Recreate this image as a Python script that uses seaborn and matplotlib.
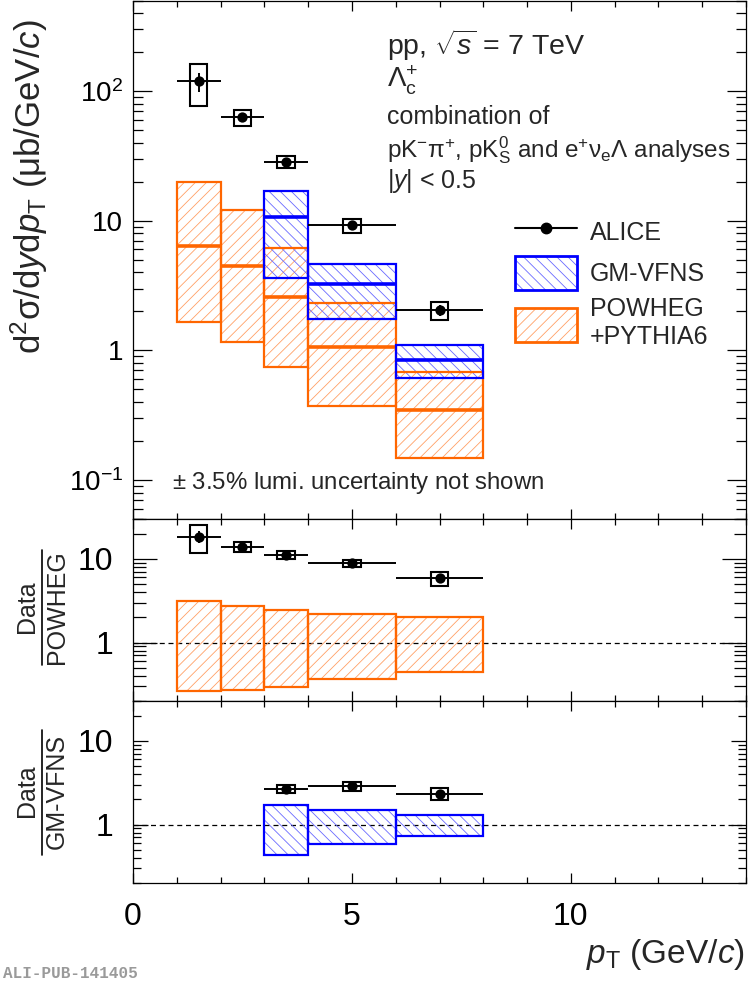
import numpy as np
import pandas as pd
import matplotlib
matplotlib.use("Agg")
import matplotlib.pyplot as plt
from matplotlib.patches import Patch
from matplotlib.lines import Line2D
from matplotlib.legend_handler import HandlerTuple
from matplotlib.ticker import FixedLocator, FixedFormatter, LogLocator, NullFormatter, MultipleLocator
import seaborn as sns

sns.set_theme(style="ticks")
plt.rcParams["font.family"] = ["Liberation Sans", "DejaVu Sans"]
plt.rcParams["mathtext.fontset"] = "custom"
plt.rcParams["mathtext.rm"] = "Liberation Sans"
plt.rcParams["mathtext.it"] = "Liberation Sans:italic"
plt.rcParams["mathtext.bf"] = "Liberation Sans:bold"
plt.rcParams["hatch.linewidth"] = 0.6
plt.rcParams["axes.linewidth"] = 0.9

# ---- pT binning ----
bin_lo = [1.0, 2.0, 3.0, 4.0, 6.0]
bin_hi = [2.0, 3.0, 4.0, 6.0, 8.0]
pt_center = [1.5, 2.5, 3.5, 5.0, 7.0]

# ---- ALICE Lambda_c+ cross section (ub/GeV/c) ----
alice_xsec = [119.0, 63.0, 28.5, 9.2, 2.04]
alice_stat = [20.0, 4.0, 1.5, 0.5, 0.2]
alice_syst = [42.0, 9.0, 3.0, 1.1, 0.33]

# ---- POWHEG+PYTHIA6 prediction ----
powheg_central = [6.4, 4.48, 2.58, 1.06, 0.346]
powheg_upper = [19.8, 12.2, 6.2, 2.32, 0.68]
powheg_lower = [1.66, 1.16, 0.74, 0.373, 0.149]

# ---- GM-VFNS prediction (bins 3-4, 4-6, 6-8) ----
gm_bin_lo = [3.0, 4.0, 6.0]
gm_bin_hi = [4.0, 6.0, 8.0]
gm_pt = [3.5, 5.0, 7.0]
gm_central = [10.7, 3.24, 0.85]
gm_upper = [16.9, 4.6, 1.10]
gm_lower = [3.6, 1.73, 0.61]

# ---- Data / POWHEG ----
ratio_pw = [18.5, 14.0, 11.2, 8.9, 5.9]
ratio_pw_stat = [3.0, 0.8, 0.5, 0.4, 0.5]
ratio_pw_syst = [6.7, 2.0, 1.2, 0.9, 1.1]
pw_band_upper = [3.17, 2.76, 2.48, 2.22, 2.03]
pw_band_lower = [0.264, 0.268, 0.297, 0.363, 0.444]

# ---- Data / GM-VFNS ----
ratio_gm = [2.66, 2.86, 2.34]
ratio_gm_stat = [0.15, 0.15, 0.2]
ratio_gm_syst = [0.3, 0.35, 0.4]
gm_band_upper = [1.69, 1.48, 1.29]
gm_band_lower = [0.43, 0.58, 0.73]

ORANGE = "#ff6600"
ORANGE_HATCH = "#ffa066"
BLUE = "#0000ff"
BLUE_HATCH = "#6a6aff"

W, H = 748, 984
fig = plt.figure(figsize=(W / 100, H / 100), dpi=100)


def axes_px(x0, y0, x1, y1):
    return fig.add_axes([x0 / W, 1 - y1 / H, (x1 - x0) / W, (y1 - y0) / H])


def fx(x):
    return x / W


def fy(y):
    return 1 - y / H


ax_top = axes_px(133, 0.5, 746, 519)
ax_mid = axes_px(133, 519, 746, 701)
ax_bot = axes_px(133, 701, 746, 883)


def model_band(ax, lo, hi, lower, upper, central, edge, hatch_col, hatch):
    lo = np.asarray(lo)
    hi = np.asarray(hi)
    lower = np.asarray(lower)
    upper = np.asarray(upper)
    ax.bar(lo, upper - lower, bottom=lower, width=hi - lo, align="edge",
           facecolor="none", edgecolor=hatch_col, hatch=hatch, linewidth=0, zorder=2)
    ax.bar(lo, upper - lower, bottom=lower, width=hi - lo, align="edge",
           fill=False, edgecolor=edge, linewidth=1.6, zorder=3)
    if central is not None:
        ax.hlines(central, lo, hi, colors=edge, linewidth=2.6, zorder=3)


def data_points(ax, x, xlo, xhi, y, stat, syst):
    x = np.asarray(x)
    y = np.asarray(y)
    syst = np.asarray(syst)
    ax.bar(x - 0.2, 2 * syst, bottom=y - syst, width=0.4, align="edge",
           fill=False, edgecolor="black", linewidth=1.5, zorder=6)
    ax.errorbar(x, y, yerr=stat,
                xerr=[x - np.asarray(xlo), np.asarray(xhi) - x],
                fmt="none", ecolor="black", elinewidth=1.4, capsize=0, zorder=6)
    df = pd.DataFrame({"pt": x, "val": y})
    sns.scatterplot(data=df, x="pt", y="val", ax=ax, color="black", s=55,
                    edgecolor="black", linewidth=0, zorder=7, legend=False)
    ax.set_xlabel("")
    ax.set_ylabel("")


# ---- top panel: cross section ----
model_band(ax_top, bin_lo, bin_hi, powheg_lower, powheg_upper, powheg_central,
           ORANGE, ORANGE_HATCH, "///")
model_band(ax_top, gm_bin_lo, gm_bin_hi, gm_lower, gm_upper, gm_central,
           BLUE, BLUE_HATCH, "\\\\\\")
data_points(ax_top, pt_center, bin_lo, bin_hi, alice_xsec, alice_stat, alice_syst)

# ---- middle panel: Data / POWHEG ----
model_band(ax_mid, bin_lo, bin_hi, pw_band_lower, pw_band_upper, None,
           ORANGE, ORANGE_HATCH, "///")
data_points(ax_mid, pt_center, bin_lo, bin_hi, ratio_pw, ratio_pw_stat, ratio_pw_syst)

# ---- bottom panel: Data / GM-VFNS ----
model_band(ax_bot, gm_bin_lo, gm_bin_hi, gm_band_lower, gm_band_upper, None,
           BLUE, BLUE_HATCH, "\\\\\\")
data_points(ax_bot, gm_pt, gm_bin_lo, gm_bin_hi, ratio_gm, ratio_gm_stat, ratio_gm_syst)

for ax in (ax_mid, ax_bot):
    ax.axhline(1.0, color="black", linewidth=0.9, linestyle=(0, (4, 3)), zorder=1)

# ---- axes styling ----
for ax in (ax_top, ax_mid, ax_bot):
    ax.set_yscale("log")
    ax.set_xlim(0, 14)
    ax.xaxis.set_major_locator(FixedLocator([0, 5, 10]))
    ax.xaxis.set_minor_locator(MultipleLocator(1))
    ax.yaxis.set_minor_locator(LogLocator(base=10, subs=np.arange(2, 10), numticks=20))
    ax.yaxis.set_minor_formatter(NullFormatter())
    ax.tick_params(which="both", direction="in", top=True, right=True,
                   colors="black", width=0.9)
    ax.tick_params(axis="x", which="major", length=7.5)
    ax.tick_params(axis="x", which="minor", length=4.5)
    for s in ax.spines.values():
        s.set_color("black")
        s.set_visible(True)

ax_top.set_ylim(0.05, 500)
ax_top.yaxis.set_major_locator(FixedLocator([0.1, 1, 10, 100]))
ax_top.yaxis.set_major_formatter(FixedFormatter([r"$10^{-1}$", "1", "10", r"$10^{2}$"]))
ax_top.tick_params(axis="y", which="major", length=14, labelsize=20, pad=7)
ax_top.tick_params(axis="y", which="minor", length=7)
ax_top.tick_params(axis="x", labelbottom=False)

for ax, maj, mnr in ((ax_mid, 17, 9), (ax_bot, 11, 6)):
    ax.set_ylim(0.2, 30)
    ax.yaxis.set_major_locator(FixedLocator([1, 10]))
    ax.yaxis.set_major_formatter(FixedFormatter(["1", "10"]))
    ax.tick_params(axis="y", which="major", length=maj, labelsize=23, pad=14)
    ax.tick_params(axis="y", which="minor", length=mnr)

ax_mid.tick_params(axis="x", labelbottom=False)
ax_bot.tick_params(axis="x", labelsize=23, pad=14)

# ---- legend ----
alice_handle = Line2D([], [], color="black", linewidth=1.5, marker="o",
                      markersize=7.5, markerfacecolor="black")
gm_handle = (Patch(facecolor="none", edgecolor=BLUE_HATCH, hatch="\\\\\\", linewidth=0),
             Patch(facecolor="none", edgecolor=BLUE, linewidth=2.0))
pw_handle = (Patch(facecolor="none", edgecolor=ORANGE_HATCH, hatch="///", linewidth=0),
             Patch(facecolor="none", edgecolor=ORANGE, linewidth=2.0))
ax_top.legend([alice_handle, gm_handle, pw_handle],
              ["ALICE", "GM-VFNS", "POWHEG\n+PYTHIA6"],
              handler_map={tuple: HandlerTuple(ndivide=1, pad=0)},
              loc="upper left", bbox_to_anchor=(fx(515), fy(215)),
              bbox_transform=fig.transFigure, frameon=False, fontsize=18,
              borderpad=0, borderaxespad=0, handlelength=2.48, handleheight=1.7,
              handletextpad=0.52, labelspacing=0.3)

# ---- annotations ----
fig.text(fx(387), fy(45), r"pp, $\sqrt{s}$ = 7 TeV", fontsize=20.5, va="center", ha="left")
fig.text(fx(387), fy(80), r"Λ$_{\mathrm{c}}^{+}$", fontsize=20, va="center", ha="left")
fig.text(fx(387), fy(117), "combination of", fontsize=18, va="center", ha="left")
fig.text(fx(387), fy(150),
         r"pK$^{-}$π$^{+}$, pK$^{0}_{\mathrm{S}}$ and e$^{+}$ν$_{\mathrm{e}}$Λ analyses",
         fontsize=17.5, va="center", ha="left")
fig.text(fx(387), fy(181), r"|$y$| < 0.5", fontsize=18, va="center", ha="left")
fig.text(fx(172), fy(483), r"$\pm$ 3.5% lumi. uncertainty not shown", fontsize=17.3,
         va="center", ha="left")

# ---- axis titles ----
fig.text(fx(29), fy(187),
         r"d$^{2}$σ/d$y$d$p_{\mathrm{T}}$ (μb/GeV/$c$)",
         fontsize=25, rotation=90, ha="center", va="center")
fig.text(fx(745), fy(955), r"$p_{\mathrm{T}}$ (GeV/$c$)", fontsize=24,
         ha="right", va="center")

for ycen, ylo, yhi, denom in ((607, 550, 665, "POWHEG"), (791, 730, 855, "GM-VFNS")):
    fig.text(fx(27), fy(ycen), "Data", fontsize=18, rotation=90, ha="center", va="center")
    fig.text(fx(57), fy(ycen), denom, fontsize=18, rotation=90, ha="center", va="center")
    fig.add_artist(Line2D([fx(42), fx(42)], [fy(ylo), fy(yhi)], color="black",
                          linewidth=1.2, transform=fig.transFigure))

fig.text(fx(3), fy(973), "ALI-PUB-141405", fontsize=11.5, color="#9a9a9a",
         family="Liberation Mono", fontweight="bold", ha="left", va="center")

fig.savefig("out.png", dpi=100)
